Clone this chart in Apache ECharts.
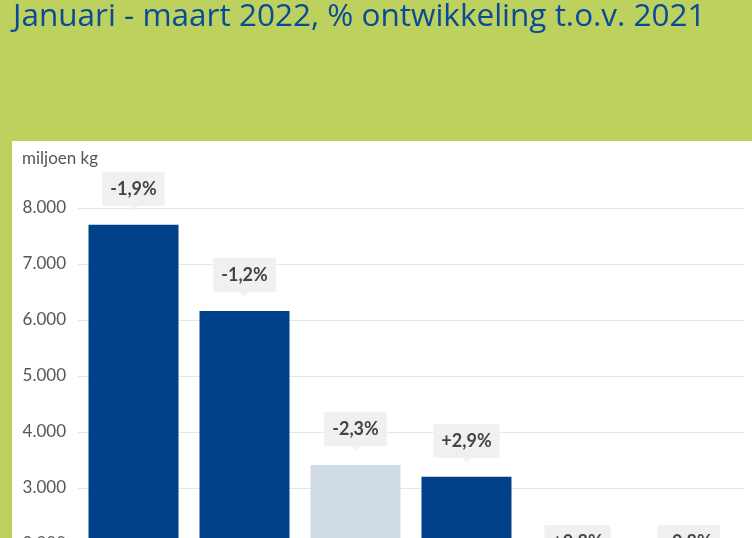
<!DOCTYPE html>
<html>
<head>
<meta charset="utf-8">
<script src="https://cdn.jsdelivr.net/npm/echarts@6/dist/echarts.min.js"></script>
<style>
    html, body { margin: 0; padding: 0; background: #bdd15e; }
    #chart { width: 752px; height: 538px; }
</style>
</head>
<body>
<div id="chart"></div>
<script>
// melkaanvoer jan-mrt 2022, miljoen kg
const categories = ['Duitsland', 'Frankrijk', 'Nederland', 'Polen', 'Ierland', 'Denemarken'];
const values = [7700, 6160, 3410, 3200, 1390, 1390];
const changes = ['-1,9%', '-1,2%', '-2,3%', '+2,9%', '+0,8%', '-0,8%'];
const yTicks = [0, 1000, 2000, 3000, 4000, 5000, 6000, 7000, 8000];
const highlight = 2; // Nederland lichter

const dark = '#00418a';
const light = '#d0dbe6';
const boxColor = '#f0f0f0';

const myChart = echarts.init(document.getElementById('chart'));

const option = {
    backgroundColor: '#bdd15e',
    animation: false,
    title: {
        text: 'Januari - maart 2022, % ontwikkeling t.o.v. 2021',
        left: 8,
        top: -4,
        textStyle: {
            color: '#0b4a98',
            fontFamily: 'Open Sans',
            fontWeight: 'normal',
            fontSize: 31.5
        }
    },
    graphic: [
        {
            type: 'rect',
            left: 12,
            top: 141,
            shape: { width: 740, height: 400 },
            style: { fill: '#ffffff' },
            z: -1
        },
        {
            type: 'text',
            left: 22,
            top: 150,
            style: {
                text: 'miljoen kg',
                fill: '#555555',
                font: '17px Lato'
            }
        }
    ],
    grid: {
        left: 78,
        top: 208,
        width: 666,
        height: 448,
        outerBoundsMode: 'none'
    },
    xAxis: {
        type: 'category',
        data: categories,
        axisLine: { show: false },
        axisTick: { show: false },
        axisLabel: { color: '#555555', fontSize: 15, fontFamily: 'Lato' }
    },
    yAxis: {
        type: 'value',
        min: yTicks[0],
        max: yTicks[yTicks.length - 1],
        interval: 1000,
        axisLabel: {
            color: '#555555',
            fontSize: 17,
            fontFamily: 'Lato',
            margin: 12,
            formatter: v => v.toLocaleString('nl-NL')
        },
        splitLine: { lineStyle: { color: '#e6e6e6' } }
    },
    series: [
        {
            type: 'bar',
            barWidth: 90,
            data: values.map((v, i) => ({
                value: v,
                itemStyle: { color: i === highlight ? light : dark }
            })),
            label: {
                show: true,
                position: 'top',
                distance: 19,
                formatter: p => changes[p.dataIndex],
                backgroundColor: boxColor,
                padding: [8, 8, 8, 8],
                color: '#444444',
                fontWeight: 'bold',
                fontSize: 18,
                fontFamily: 'Lato'
            }
        },
        {
            type: 'scatter',
            silent: true,
            data: values,
            symbol: 'triangle',
            symbolRotate: 180,
            symbolSize: [10, 5],
            symbolOffset: [0, -16.5],
            itemStyle: { color: boxColor },
            z: 3
        }
    ]
};

option && myChart.setOption(option);
</script>
</body>
</html>
